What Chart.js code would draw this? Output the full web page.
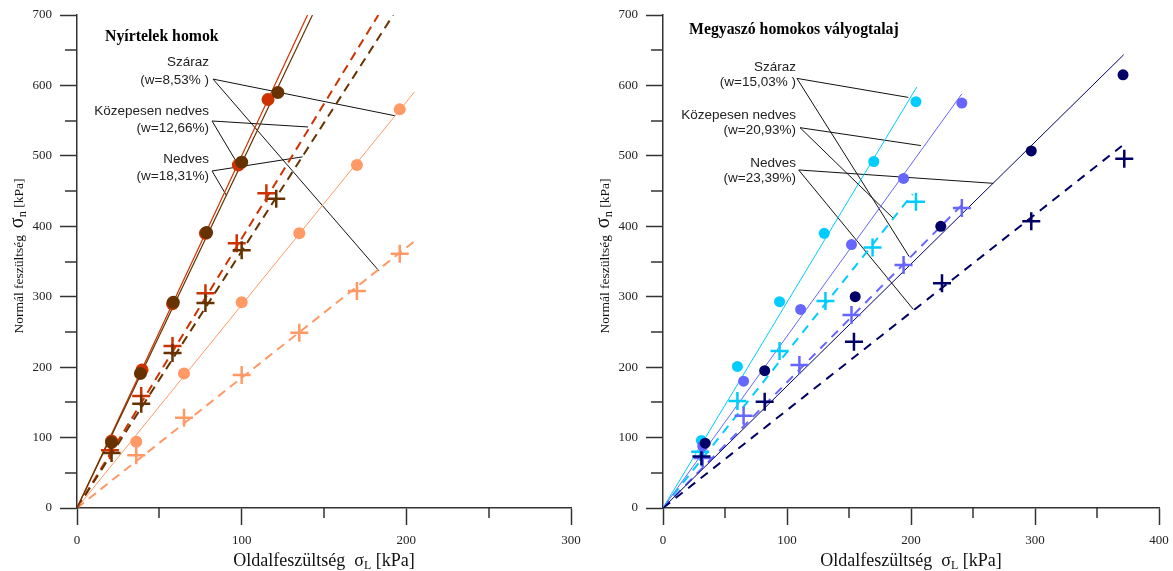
<!DOCTYPE html>
<html>
<head>
<meta charset="utf-8">
<script src="https://cdn.jsdelivr.net/npm/chart.js@4.4.1/dist/chart.umd.min.js"></script>
<style>
  html, body { margin: 0; padding: 0; background: #fff; }
  #wrap { position: relative; width: 1173px; height: 571px; }
  #leftChart { position: absolute; left: 0; top: 0; }
  #rightChart { position: absolute; left: 586px; top: 0; }
</style>
</head>
<body>
<div id="wrap">
  <canvas id="leftChart" width="586" height="571" style="width:586px;height:571px"></canvas>
  <canvas id="rightChart" width="587" height="571" style="width:587px;height:571px"></canvas>
</div>
<script>
// ---- Nyírtelek homok (left) ----
const nyDryCircX = [36, 65, 100, 135, 170, 196];
const nyDryCircY = [94, 191, 292, 390, 487, 566];
const nyDryCrossX = [36, 65, 100, 135, 170, 196];
const nyDryCrossY = [75, 128, 189, 249, 308, 361];
const nyDryFitX = [0, 205];
const nyDryFitY = [0, 591];
const nyDryDashX = [0, 205];
const nyDryDashY = [0, 379];

const nyMidCircX = [21, 39.5, 58, 78, 98, 116];
const nyMidCircY = [95, 196, 290, 390, 487, 580];
const nyMidCrossX = [20, 39, 58, 78, 97, 115];
const nyMidCrossY = [82, 159, 230, 305, 376, 447];
const nyMidFitX = [0, 140];
const nyMidFitY = [0, 700];
const nyMidDashX = [0, 183];
const nyMidDashY = [0, 700];

const nyWetCircX = [21, 38.5, 58.5, 78.7, 100, 122];
const nyWetCircY = [93, 191, 292, 391, 491, 590];
const nyWetCrossX = [21, 39, 58, 78, 100, 121];
const nyWetCrossY = [78, 148, 220, 291, 366, 439];
const nyWetFitX = [0, 143];
const nyWetFitY = [0, 700];
const nyWetDashX = [0, 192];
const nyWetDashY = [0, 700];

// leader lines: solid-line end -> label -> dashed-line end
const nyLeadDryX = [193, 82.6, 183.4];
const nyLeadDryY = [557, 609, 336.6];
const nyLeadMidX = [140.3, 82, 97.7];
const nyLeadMidY = [541, 549.5, 488];
const nyLeadWetX = [137, 82, 90.8];
const nyLeadWetY = [498.6, 478.5, 443.6];

// ---- Megyaszó homokos vályogtalaj (right) ----
const mgDryCircX = [31, 60, 94, 130, 170, 204];
const mgDryCircY = [96, 201, 293, 390, 492, 577];
const mgDryCrossX = [30, 60, 94, 131, 169, 204];
const mgDryCrossY = [80, 152, 223, 294, 370, 435];
const mgDryFitX = [0, 204.6];
const mgDryFitY = [0, 597.6];
const mgDryDashX = [0, 201.4];
const mgDryDashY = [0, 445.8];

const mgMidCircX = [32, 65, 111, 152, 194, 241];
const mgMidCircY = [88, 180, 282, 374, 468, 575];
const mgMidCrossX = [32, 65, 110, 152, 194, 241];
const mgMidCrossY = [71, 131, 203, 274, 345, 426];
const mgMidFitX = [0, 241];
const mgMidFitY = [0, 588];
const mgMidDashX = [0, 242];
const mgMidDashY = [0, 432];

const mgWetCircX = [34, 82, 155, 224, 297, 371];
const mgWetCircY = [92, 195, 300, 400, 507, 615];
const mgWetCrossX = [31, 82, 154, 225, 297, 372];
const mgWetCrossY = [73, 151, 236, 319, 407, 496];
const mgWetFitX = [0, 371.5];
const mgWetFitY = [0, 643.5];
const mgWetDashX = [0, 370];
const mgWetDashY = [0, 514];

const mgLeadDryX = [197.8, 108, 198.6];
const mgLeadDryY = [583, 610, 356.8];
const mgLeadMidX = [208, 110.5, 185.7];
const mgLeadMidY = [514.6, 540, 411.3];
const mgLeadWetX = [266.4, 109.4, 201.9];
const mgLeadWetY = [461, 480, 282];

const yTicksMax = 700;

const SERIF = '"Liberation Serif", "Times New Roman", serif';
const SANS = '"Liberation Sans", Arial, sans-serif';

const pts = (xs, ys) => xs.map((x, i) => ({ x: x, y: ys[i] }));

function circles(xs, ys, color, r) {
  return { data: pts(xs, ys), showLine: false, pointStyle: 'circle', pointRadius: r,
    pointBackgroundColor: color, pointBorderColor: color, pointBorderWidth: 0, clip: false };
}
function crosses(xs, ys, color) {
  return { data: pts(xs, ys), showLine: false, pointStyle: 'cross', pointRadius: 9,
    pointBorderColor: color, pointBorderWidth: 2.5, clip: false };
}
function fitLine(xs, ys, color, width, dash) {
  return { data: pts(xs, ys), showLine: true, pointRadius: 0, borderColor: color,
    borderWidth: width, borderDash: dash || [], fill: false };
}
function leader(xs, ys) {
  return { data: pts(xs, ys), showLine: true, pointRadius: 0, borderColor: '#111',
    borderWidth: 1, fill: false, clip: false };
}

function axisX(max) {
  return {
    type: 'linear', min: 0, max: max,
    border: { display: true, color: '#333', width: 1.5 },
    grid: { display: true, drawOnChartArea: false, tickLength: 17, tickColor: '#333', tickWidth: 1.5 },
    ticks: { stepSize: 100, padding: 8, color: '#222', font: { family: SERIF, size: 13 } },
    afterFit: s => { s.height = 63; s.paddingLeft = 0; s.paddingRight = 0; }
  };
}
function axisY() {
  return {
    type: 'linear', min: 0, max: yTicksMax,
    border: { display: true, color: '#333', width: 1.5 },
    grid: { display: true, drawOnChartArea: false, tickLength: 17, tickColor: '#333', tickWidth: 1.5 },
    ticks: { stepSize: 100, padding: 8, color: '#222', font: { family: SERIF, size: 13 } },
    afterFit: s => { s.width = 77; s.paddingTop = 0; s.paddingBottom = 0; }
  };
}

// text pieces: [text, fontSize, baselineShift]
function drawPieces(ctx, pieces, x, y) {
  let total = 0;
  pieces.forEach(p => { ctx.font = p[1] + 'px ' + SERIF; total += ctx.measureText(p[0]).width; });
  let cx = x - total / 2;
  pieces.forEach(p => {
    ctx.font = p[1] + 'px ' + SERIF;
    ctx.fillText(p[0], cx, y + p[2]);
    cx += ctx.measureText(p[0]).width;
  });
}

function decor(cfg) {
  return {
    id: 'decor',
    afterDraw(chart) {
      const { ctx, chartArea, scales } = chart;
      ctx.save();
      // minor ticks
      ctx.strokeStyle = '#333';
      ctx.lineWidth = 1.5;
      ctx.beginPath();
      for (let v = 50; v < yTicksMax; v += 100) {
        const y = Math.round(scales.y.getPixelForValue(v));
        ctx.moveTo(chartArea.left - 12, y); ctx.lineTo(chartArea.left, y);
      }
      for (let v = 50; v < cfg.xMax; v += 100) {
        const x = Math.round(scales.x.getPixelForValue(v));
        ctx.moveTo(x, chartArea.bottom); ctx.lineTo(x, chartArea.bottom + 10);
      }
      ctx.stroke();

      // title
      ctx.fillStyle = '#000';
      ctx.textBaseline = 'middle';
      ctx.textAlign = 'left';
      ctx.font = 'bold 15.8px ' + SERIF;
      ctx.fillText(cfg.title, cfg.titleX, cfg.titleY);

      // annotation labels
      ctx.fillStyle = '#222';
      ctx.textAlign = 'right';
      ctx.font = '13.5px ' + SANS;
      cfg.labels.forEach(l => {
        ctx.fillText(l[0], cfg.labelRight, l[1]);
      });

      // x axis title
      ctx.fillStyle = '#111';
      ctx.textAlign = 'left';
      ctx.textBaseline = 'alphabetic';
      const cxm = (chartArea.left + chartArea.right) / 2;
      drawPieces(ctx, [['Oldalfeszültség  σ', 18, 0], ['L', 12, 3], [' [kPa]', 18, 0]], cxm, 566);

      // y axis title
      ctx.translate(cfg.yTitleX, 256);
      ctx.rotate(-Math.PI / 2);
      drawPieces(ctx, [['Normál feszültség  ', 13.5, 0], ['σ', 20, 0], ['n', 12.5, 3], [' [kPa]', 13.5, 0]], 0, 5);
      ctx.restore();
    }
  };
}

function makeChart(id, xMax, datasets, cfg, padRight) {
  return new Chart(document.getElementById(id), {
    type: 'scatter',
    data: { datasets: datasets },
    options: {
      responsive: false,
      animation: false,
      layout: { padding: { left: 0, right: padRight, top: 15, bottom: 0 } },
      plugins: { legend: { display: false }, tooltip: { enabled: false } },
      scales: { x: axisX(xMax), y: axisY() }
    },
    plugins: [decor(Object.assign({ xMax: xMax }, cfg))]
  });
}

const cSalmon = '#FF9966', cRed = '#CC3300', cBrown = '#663300';
const cCyan = '#00CCFF', cBlue = '#6666FF', cNavy = '#000066';

makeChart('leftChart', 300, [
  circles(nyDryCircX, nyDryCircY, cSalmon, 6),
  circles(nyWetCircX, nyWetCircY, cBrown, 6.5),
  circles(nyMidCircX, nyMidCircY, cRed, 6.5),
  crosses(nyWetCrossX, nyWetCrossY, cBrown),
  crosses(nyMidCrossX, nyMidCrossY, cRed),
  crosses(nyDryCrossX, nyDryCrossY, cSalmon),
  fitLine(nyWetFitX, nyWetFitY, cBrown, 1.2),
  fitLine(nyMidFitX, nyMidFitY, cRed, 1.2),
  fitLine(nyDryFitX, nyDryFitY, cSalmon, 1),
  fitLine(nyWetDashX, nyWetDashY, cBrown, 2, [9, 6]),
  fitLine(nyMidDashX, nyMidDashY, cRed, 2, [9, 6]),
  fitLine(nyDryDashX, nyDryDashY, cSalmon, 2, [9, 6]),
  leader(nyLeadDryX, nyLeadDryY),
  leader(nyLeadMidX, nyLeadMidY),
  leader(nyLeadWetX, nyLeadWetY)
], {
  title: 'Nyírtelek homok', titleX: 105, titleY: 37,
  labelRight: 209, yTitleX: 18,
  labels: [['Száraz', 62], ['(w=8,53% )', 80], ['Közepesen nedves', 111], ['(w=12,66%)', 128],
           ['Nedves', 159], ['(w=18,31%)', 176]]
}, 15);

makeChart('rightChart', 400, [
  circles(mgWetCircX, mgWetCircY, cNavy, 5.5),
  circles(mgMidCircX, mgMidCircY, cBlue, 5.5),
  circles(mgDryCircX, mgDryCircY, cCyan, 5.5),
  crosses(mgWetCrossX, mgWetCrossY, cNavy),
  crosses(mgMidCrossX, mgMidCrossY, cBlue),
  crosses(mgDryCrossX, mgDryCrossY, cCyan),
  fitLine(mgWetFitX, mgWetFitY, cNavy, 1),
  fitLine(mgMidFitX, mgMidFitY, cBlue, 1),
  fitLine(mgDryFitX, mgDryFitY, cCyan, 1),
  fitLine(mgWetDashX, mgWetDashY, cNavy, 2, [9, 7]),
  fitLine(mgMidDashX, mgMidDashY, cBlue, 2, [9, 7]),
  fitLine(mgDryDashX, mgDryDashY, cCyan, 2, [9, 7]),
  leader(mgLeadDryX, mgLeadDryY),
  leader(mgLeadMidX, mgLeadMidY),
  leader(mgLeadWetX, mgLeadWetY)
], {
  title: 'Megyaszó homokos vályogtalaj', titleX: 103, titleY: 30,
  labelRight: 210, yTitleX: 18,
  labels: [['Száraz', 67], ['(w=15,03% )', 82], ['Közepesen nedves', 115], ['(w=20,93%)', 130],
           ['Nedves', 163], ['(w=23,39%)', 178]]
}, 14);
</script>
</body>
</html>
